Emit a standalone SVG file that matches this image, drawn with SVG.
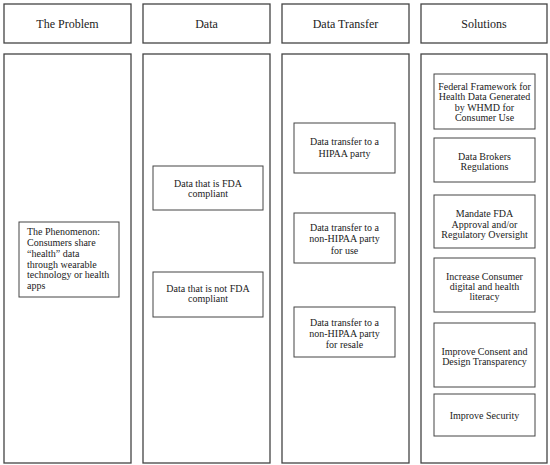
<svg xmlns="http://www.w3.org/2000/svg" width="550" height="465" viewBox="0 0 550 465">
<style>
.col{fill:#fff;stroke:#444;stroke-width:1.3}
.box{fill:#fff;stroke:#444;stroke-width:1}
.h{font-family:"Liberation Serif","Times New Roman",serif;font-size:12px;fill:#222;text-anchor:middle}
.t{font-family:"Liberation Serif","Times New Roman",serif;font-size:10px;fill:#222;text-anchor:middle}
.l{font-family:"Liberation Serif","Times New Roman",serif;font-size:10px;fill:#222}
</style>
<rect width="550" height="465" fill="#fff"/>
<g id="header-problem"><rect class="col" x="4" y="4" width="127" height="39"/><text class="h" x="67.5" y="28">The Problem</text></g>
<g id="header-data"><rect class="col" x="143" y="4" width="127" height="39"/><text class="h" x="206.5" y="28">Data</text></g>
<g id="header-transfer"><rect class="col" x="282" y="4" width="127" height="39"/><text class="h" x="345.5" y="28">Data Transfer</text></g>
<g id="header-solutions"><rect class="col" x="421" y="4" width="126" height="39"/><text class="h" x="484" y="28">Solutions</text></g>
<g id="column-problem"><rect class="col" x="4" y="54" width="127" height="409"/></g>
<g id="column-data"><rect class="col" x="143" y="54" width="127" height="409"/></g>
<g id="column-transfer"><rect class="col" x="282" y="54" width="127" height="409"/></g>
<g id="column-solutions"><rect class="col" x="421" y="54" width="126" height="409"/></g>
<g id="connectors"></g>
<g id="phenomenon"><rect class="box" x="19" y="222" width="100" height="75"/>
<text class="l" x="27" y="235">The Phenomenon:</text>
<text class="l" x="27" y="246">Consumers share</text>
<text class="l" x="27" y="256.5">“health” data</text>
<text class="l" x="27" y="267.5">through wearable</text>
<text class="l" x="27" y="278">technology or health</text>
<text class="l" x="27" y="289">apps</text></g>
<g id="data-fda"><rect class="box" x="153" y="166" width="110" height="44"/>
<text class="t" x="208" y="186.5">Data that is FDA</text><text class="t" x="208" y="197">compliant</text></g>
<g id="data-not-fda"><rect class="box" x="153" y="272" width="110" height="45"/>
<text class="t" x="208" y="291.5">Data that is not FDA</text><text class="t" x="208" y="302">compliant</text></g>
<g id="transfer-hipaa"><rect class="box" x="294" y="123" width="101" height="50"/>
<text class="t" x="344.5" y="145">Data transfer to a</text><text class="t" x="344.5" y="157">HIPAA party</text></g>
<g id="transfer-nonhipaa-use"><rect class="box" x="294" y="213" width="101" height="50"/>
<text class="t" x="344.5" y="230.5">Data transfer to a</text><text class="t" x="344.5" y="242">non-HIPAA party</text><text class="t" x="344.5" y="253.5">for use</text></g>
<g id="transfer-nonhipaa-resale"><rect class="box" x="294" y="307" width="101" height="50"/>
<text class="t" x="344.5" y="326">Data transfer to a</text><text class="t" x="344.5" y="337">non-HIPAA party</text><text class="t" x="344.5" y="347.5">for resale</text></g>
<g id="sol-framework"><rect class="box" x="434" y="74" width="101" height="55"/>
<text class="t" x="484.5" y="89.5">Federal Framework for</text><text class="t" x="484.5" y="100">Health Data Generated</text><text class="t" x="484.5" y="110.5">by WHMD for</text><text class="t" x="484.5" y="121">Consumer Use</text></g>
<g id="sol-brokers"><rect class="box" x="434" y="138" width="101" height="44"/>
<text class="t" x="484.5" y="160">Data Brokers</text><text class="t" x="484.5" y="170">Regulations</text></g>
<g id="sol-fda"><rect class="box" x="434" y="195" width="101" height="53"/>
<text class="t" x="484.5" y="217">Mandate FDA</text><text class="t" x="484.5" y="227.5">Approval and/or</text><text class="t" x="484.5" y="238">Regulatory Oversight</text></g>
<g id="sol-literacy"><rect class="box" x="434" y="258" width="101" height="54"/>
<text class="t" x="484.5" y="280">Increase Consumer</text><text class="t" x="484.5" y="290">digital and health</text><text class="t" x="484.5" y="300">literacy</text></g>
<g id="sol-consent"><rect class="box" x="434" y="323" width="101" height="64"/>
<text class="t" x="484.5" y="354.5">Improve Consent and</text><text class="t" x="484.5" y="365">Design Transparency</text></g>
<g id="sol-security"><rect class="box" x="434" y="394" width="101" height="42"/>
<text class="t" x="484.5" y="419">Improve Security</text></g>
</svg>
